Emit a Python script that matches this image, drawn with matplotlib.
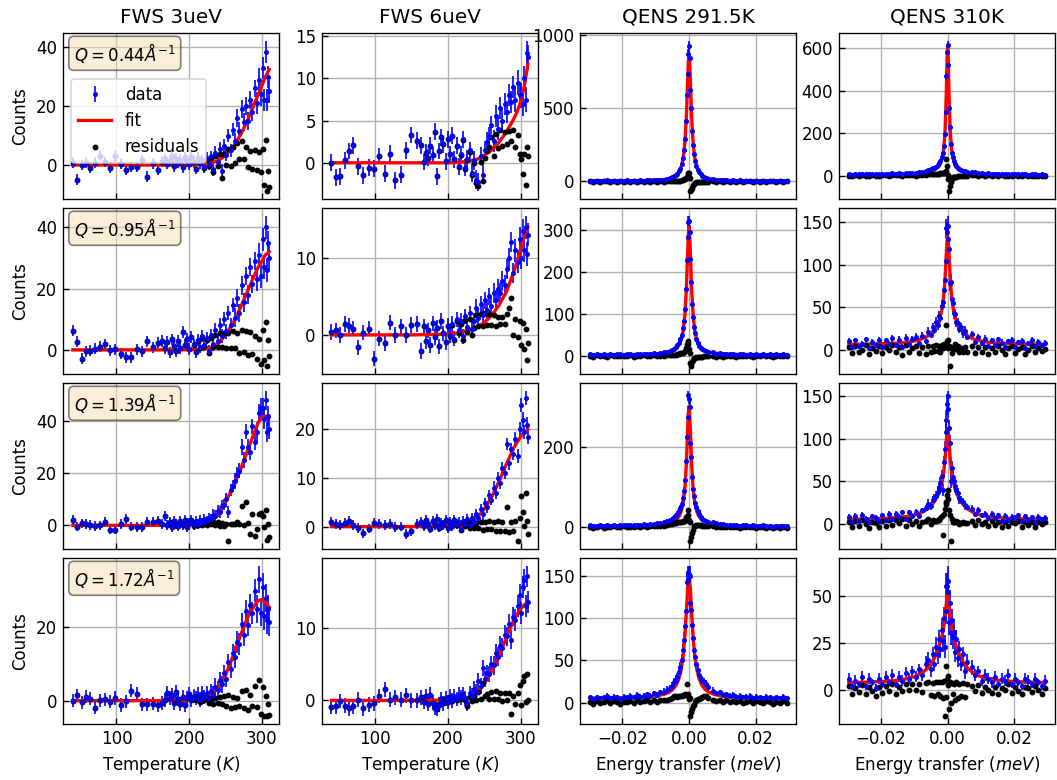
import matplotlib.pyplot as plt
from matplotlib.ticker import MaxNLocator

# ---------------- FWS: fixed window scans vs temperature ----------------
temp = [40, 46, 52, 58, 64, 70, 77, 84, 91, 98, 106, 113, 120, 128, 135, 142, 150, 157,
        163, 167, 170, 173, 176, 179, 182, 185, 188, 191, 194, 197, 200, 203, 206, 209,
        212, 215, 218, 221, 224, 227, 230, 233, 236, 239, 242, 245, 248, 251, 254, 257,
        260, 263, 266, 269, 272, 275, 278, 281, 284, 287, 290, 293, 296, 299, 301, 303,
        305, 307, 309, 310]
temp_fit = [40, 150, 200, 210, 220, 230, 240, 250, 260, 270, 280, 290, 295, 300, 305, 310]

err_3uev = [1.8, 1.8, 1.8, 1.8, 1.8, 1.8, 1.8, 1.8, 1.8, 1.8, 1.8, 1.8, 1.8, 1.8, 1.8, 1.8, 1.8, 1.8,
            1.9, 1.9, 1.9, 1.9, 1.9, 1.9, 1.9, 1.9, 1.9, 1.9, 1.9, 1.9, 1.9, 1.9, 1.9, 1.9,
            1.9, 1.9, 1.9, 1.9, 1.9, 1.9, 1.9, 2.3, 2.3, 2.3, 2.3, 2.3, 2.3, 2.3, 2.3, 2.3,
            2.3, 3.0, 3.0, 3.0, 3.0, 3.0, 3.0, 3.0, 3.0, 3.0, 3.0, 3.8, 3.8, 3.8, 3.8, 3.8,
            3.8, 3.8, 3.8, 3.8]
err_6uev = [1.0, 1.0, 1.0, 1.0, 1.0, 1.0, 1.0, 1.0, 1.0, 1.0, 1.0, 1.0, 1.0, 1.0, 1.0, 1.0, 1.0, 1.0,
            1.0, 1.0, 1.0, 1.0, 1.0, 1.0, 1.0, 1.0, 1.0, 1.0, 1.0, 1.0, 1.0, 1.0, 1.0, 1.0,
            1.0, 1.0, 1.0, 1.0, 1.0, 1.0, 1.0, 1.1, 1.1, 1.1, 1.1, 1.1, 1.1, 1.1, 1.1, 1.1,
            1.1, 1.3, 1.3, 1.3, 1.3, 1.3, 1.3, 1.3, 1.3, 1.3, 1.3, 1.5, 1.5, 1.5, 1.5, 1.5,
            1.5, 1.5, 1.5, 1.5]

# FWS 3ueV
fws3_044 = [0.8, -5.0, 0.0, 0.8, -0.9, 0.8, 3.1, 1.0, -0.9, 2.9, 0.5, -1.7, -0.7, -0.7, 1.7, -4.0, 0.6, -1.7,
            1.1, 2.0, 0.5, 1.5, 3.0, -0.5, 2.2, 0.8, 1.8, -0.8, 2.6, 1.2, 0.2, 2.8, 1.0, -1.2,
            2.4, 0.6, 1.6, -0.8, 2.4, 0.3, 3.0, -1.5, 4.2, 1.0, 5.5, -2.0, 6.5, 3.5, 10.0, 5.0,
            12.0, 8.0, 16.0, 11.5, 19.0, 14.5, 20.0, 15.0, 22.0, 18.0, 26.0, 21.0, 29.0, 24.0, 33.0, 22.0,
            38.5, 22.0, 30.0, 25.0]
fws3_044_res = [0.8, -5.0, 0.0, 0.8, -0.9, 0.8, 3.1, 1.0, -0.9, 2.9, 0.5, -1.7, -0.7, -0.7, 1.7, -4.0, 0.6, -1.7,
                1.1, 2.0, 0.5, 1.5, 3.0, -0.5, 2.2, 0.8, 1.8, -0.8, 2.6, 1.2, 0.2, 2.8, 1.0, -1.2,
                2.4, 0.6, 1.5, -1.0, 2.0, -0.2, 2.4, -2.4, 3.1, -0.4, 3.6, -4.4, 3.6, -0.1, 5.6, -0.2,
                6.0, 0.8, 7.6, 1.9, 8.0, 2.0, 6.0, -0.6, 4.6, -1.2, 5.0, -1.8, 4.4, -2.4, 5.4, -6.8,
                8.5, -9.0, -2.0, -7.5]
fws3_044_fit = [0, 0, 0, 0.05, 0.2, 0.6, 1.5, 3.3, 6.0, 10.0, 15.0, 21.0, 24.0, 27.0, 30.0, 32.5]

fws3_095 = [6.3, 2.6, -2.9, -0.4, -0.2, 0.3, 1.0, 1.8, -0.1, 0.2, -1.2, -2.4, -2.4, 0.2, -0.4, 2.8, 0.8, 2.3,
            3.0, 0.5, 2.6, -0.8, 3.4, 1.2, -0.5, 2.8, 0.6, 5.8, 1.5, 3.6, 0.3, 4.2, 1.8, -0.6,
            3.2, 0.8, 4.5, 1.5, 3.8, -0.2, 4.8, 2.0, 6.5, 3.0, 8.0, 4.5, 10.0, 6.0, 12.0, 8.0,
            14.5, 10.5, 17.0, 12.0, 21.0, 15.5, 24.0, 18.0, 27.0, 21.5, 29.0, 23.0, 31.0, 24.0, 36.0, 27.0,
            40.0, 26.0, 35.0, 30.0]
fws3_095_res = [6.3, 2.6, -2.9, -0.4, -0.2, 0.3, 1.0, 1.8, -0.1, 0.2, -1.2, -2.4, -2.4, 0.2, -0.4, 2.8, 0.8, 2.3,
                3.0, 0.5, 2.6, -0.8, 3.4, 1.2, -0.5, 2.8, 0.6, 5.8, 1.5, 3.6, 0.3, 4.1, 1.7, -0.7,
                3.0, 0.6, 4.2, 1.2, 3.3, -0.9, 4.0, 0.8, 5.0, 1.1, 5.4, 1.0, 5.6, 0.65, 5.6, 0.55,
                6.0, 0.5, 5.5, -1.0, 6.4, -0.75, 6.1, -1.55, 5.8, -1.35, 4.5, -3.0, 3.6, -4.6, 6.6, -3.2,
                9.0, -5.4, 3.2, -2.0]
fws3_095_fit = [0, 0, 0.05, 0.1, 0.3, 0.8, 2.0, 5.0, 8.5, 13.5, 19.0, 24.5, 27.0, 29.0, 31.0, 32.0]

fws3_139 = [2.0, -0.5, 0.7, 0.5, 0.1, -0.2, 0.0, 1.4, -1.7, -1.7, 0.5, 2.4, -0.5, -0.7, -0.7, 1.4, 1.4, 1.6,
            0.4, 3.6, 0.2, 1.2, -0.8, 1.8, 0.5, -0.4, 1.5, 0.2, 2.0, -0.6, 1.0, 2.2, 0.0, 1.6,
            0.6, 2.0, 1.0, 2.5, 1.5, 3.0, 2.5, 4.0, 3.5, 5.5, 5.0, 7.5, 8.0, 10.0, 5.0, 13.5,
            15.0, 17.0, 19.5, 21.0, 30.0, 25.0, 36.0, 30.0, 28.0, 38.0, 32.0, 36.0, 43.0, 45.0, 45.0, 41.0,
            48.0, 36.0, 42.0, 37.0]
fws3_139_res = [2.0, -0.5, 0.7, 0.5, 0.1, -0.2, 0.0, 1.4, -1.7, -1.7, 0.5, 2.4, -0.5, -0.7, -0.7, 1.4, 1.4, 1.6,
                0.4, 3.6, 0.2, 1.2, -0.8, 1.8, 0.5, -0.4, 1.5, 0.2, 2.0, -0.6, 0.9, 2.0, -0.2, 1.3,
                0.2, 1.45, 0.3, 1.6, 0.2, 1.4, 0.5, 1.25, 0.0, 1.25, -0.4, 0.75, -0.1, 0.45, -6.2, 0.65,
                0.5, 0.55, 1.1, 0.65, 7.5, 0.25, 9.0, 0.75, -3.5, 4.25, -4.0, -1.4, 4.2, 4.7, 3.4, -0.8,
                6.0, -5.8, 0.4, -4.5]
fws3_139_fit = [0, 0, 0.1, 0.3, 0.8, 2.0, 4.5, 9.0, 14.5, 21.0, 28.5, 36.0, 39.5, 41.5, 42.0, 41.5]

fws3_172 = [0.0, 1.5, -0.4, 1.1, 0.5, -1.9, 0.1, 0.4, -0.3, 0.7, -1.2, -0.2, 2.7, 1.8, -1.0, -1.0, -0.8, -1.3,
            -0.6, 0.1, 2.2, 0.8, 1.6, -0.6, 2.4, 0.4, -0.8, 1.0, -1.2, 0.6, 1.8, 0.2, 1.2, 0.6,
            1.8, 0.2, 2.2, 1.0, 2.0, 0.8, 2.6, 1.6, 3.8, 3.0, 5.5, 4.5, 7.5, 6.0, 10.5, 8.5,
            13.0, 12.0, 16.0, 15.5, 21.0, 18.0, 24.5, 20.5, 26.0, 24.0, 30.0, 25.0, 33.0, 24.0, 31.0, 23.0,
            28.0, 22.0, 25.0, 21.5]
fws3_172_res = [0.0, 1.5, -0.4, 1.1, 0.5, -1.9, 0.1, 0.4, -0.3, 0.7, -1.2, -0.2, 2.7, 1.8, -1.0, -1.0, -0.8, -1.3,
                -0.6, 0.1, 2.2, 0.8, 1.6, -0.6, 2.4, 0.4, -0.8, 1.0, -1.2, 0.6, 1.7, 0.05, 1.0, 0.3,
                1.4, -0.35, 1.5, 0.1, 0.8, -0.7, 0.8, -0.8, 0.8, -0.6, 1.1, -0.9, 1.15, -1.5, 1.5, -2.0,
                1.0, -1.65, 0.7, -1.45, 2.5, -2.0, 3.0, -2.55, 1.55, -1.5, 4.0, -1.8, 5.7, -3.5, 3.6, -4.1,
                1.2, -4.3, -0.8, -4.0]
fws3_172_fit = [0, 0, 0.1, 0.3, 0.8, 1.8, 3.8, 7.0, 12.0, 17.5, 22.5, 26.0, 27.3, 27.5, 26.8, 25.5]

# FWS 6ueV
fws6_044 = [0.0, -1.7, -1.6, 0.3, 1.4, 2.1, -0.4, -1.5, -0.6, -0.7, 0.8, -1.3, 1.1, -2.1, -1.4, 1.5, 3.3, 2.6,
            2.1, 0.1, 1.2, 0.6, 2.0, 0.9, 3.7, -1.6, 1.4, 3.0, 2.2, 0.2, 2.8, 1.0, 3.2, 0.4,
            2.0, -0.4, 1.0, 2.8, -0.6, 0.5, 1.5, -1.2, 0.3, -2.0, -2.3, 0.8, -1.4, 1.5, 2.5, 3.2,
            4.5, 2.6, 5.5, 4.0, 6.5, 5.0, 7.0, 6.0, 8.0, 7.2, 9.0, 7.5, 9.5, 8.0, 8.0, 7.0,
            10.0, 7.5, 13.0, 12.5]
fws6_044_res = [0.0, -1.7, -1.6, 0.3, 1.4, 2.1, -0.4, -1.5, -0.6, -0.7, 0.8, -1.3, 1.1, -2.1, -1.4, 1.5, 3.3, 2.6,
                2.1, 0.1, 1.2, 0.6, 2.0, 0.9, 3.7, -1.6, 1.4, 3.0, 2.2, 0.2, 2.8, 1.0, 3.2, 0.4,
                2.0, -0.5, 0.9, 2.7, -0.75, 0.35, 1.3, -1.5, 0.0, -2.4, -2.8, 0.15, -2.2, 0.55, 1.35, 1.9,
                3.0, 0.85, 3.45, 1.7, 3.85, 2.0, 3.65, 2.25, 3.8, 2.55, 3.9, 1.9, 3.3, 1.05, 0.45, -1.3,
                1.0, -2.6, 1.85, 0.8]
fws6_044_fit = [0, 0, 0, 0.02, 0.1, 0.2, 0.4, 0.9, 1.5, 2.4, 3.6, 5.1, 6.0, 7.2, 9.0, 11.7]

fws6_095 = [0.4, 0.6, 0.0, 1.4, 1.2, 0.8, -1.6, 0.3, 0.8, -3.1, -0.5, -1.1, 1.6, 0.0, 1.1, 0.0, 1.3, 1.4,
            -2.1, 1.1, -0.8, 0.6, -1.3, 1.5, -0.3, 0.9, -1.5, 1.8, 0.2, -0.9, 1.2, 0.0, 1.4, -0.5,
            2.0, 0.6, 1.8, -0.2, 2.4, 1.0, 2.8, 0.8, 1.8, 3.5, 2.2, 4.0, 2.6, 4.5, 3.2, 5.0,
            3.8, 5.5, 4.5, 6.0, 5.5, 7.0, 6.5, 8.5, 10.0, 12.0, 8.0, 11.0, 9.5, 12.5, 10.0, 13.5,
            11.0, 14.0, 10.5, 13.0]
fws6_095_res = [0.4, 0.6, 0.0, 1.4, 1.2, 0.8, -1.6, 0.3, 0.8, -3.1, -0.5, -1.1, 1.6, 0.0, 1.1, 0.0, 1.3, 1.4,
                -2.1, 1.1, -0.8, 0.6, -1.3, 1.5, -0.3, 0.9, -1.5, 1.8, 0.2, -0.9, 1.1, -0.1, 1.25, -0.7,
                1.75, 0.3, 1.45, -0.65, 1.9, 0.4, 2.1, 0.0, 0.9, 2.55, 1.1, 2.7, 1.1, 2.8, 1.25, 2.75,
                1.3, 2.6, 1.2, 2.3, 1.35, 2.35, 1.35, 2.75, 3.5, 4.75, 0.0, 2.1, -0.3, 1.8, -1.3, 1.5,
                -1.8, 0.7, -3.3, -1.0]
fws6_095_fit = [0, 0, 0.1, 0.2, 0.4, 0.7, 1.0, 1.6, 2.5, 3.8, 5.5, 8.0, 9.5, 11.0, 12.8, 14.0]

fws6_139 = [0.9, 0.5, 0.3, 0.7, 1.1, 0.3, -0.3, -1.4, -0.4, 0.7, 0.5, 0.4, 0.6, -0.1, 0.0, -1.5, -0.9, 0.6,
            0.9, 0.2, 1.4, 0.5, -0.4, 1.1, 0.3, 1.5, -0.2, 0.8, 0.4, 1.3, -0.3, 0.9, 0.2, 1.4,
            0.5, 1.0, -0.4, 1.2, 0.6, 1.6, 0.4, 1.8, 1.0, 2.5, 1.8, 3.6, 2.5, 4.8, 4.0, 6.5,
            5.5, 8.0, 7.0, 10.0, 9.0, 12.0, 11.0, 17.0, 13.0, 16.0, 15.0, 18.0, 14.5, 20.0, 25.0, 22.0,
            19.5, 26.5, 21.0, 18.5]
fws6_139_res = [0.9, 0.5, 0.3, 0.7, 1.1, 0.3, -0.3, -1.4, -0.4, 0.7, 0.5, 0.4, 0.6, -0.1, 0.0, -1.5, -0.9, 0.6,
                0.9, 0.2, 1.4, 0.5, -0.4, 1.1, 0.3, 1.5, -0.2, 0.8, 0.4, 1.3, -0.3, 0.85, 0.1, 1.3,
                0.35, 0.8, -0.65, 0.85, 0.2, 1.1, -0.2, 0.85, -0.3, 0.8, -0.35, 0.9, -0.75, 0.95, -0.55, 1.2,
                -0.5, 1.05, -0.9, 1.1, -0.9, 1.05, -1.0, 3.95, -1.1, 0.85, -1.0, 1.2, -3.05, 1.75, 6.35, 3.05,
                0.2, 6.9, 1.1, -1.5]
fws6_139_fit = [0, 0, 0.05, 0.1, 0.3, 0.6, 1.8, 3.6, 6.0, 9.2, 12.7, 16.0, 17.3, 18.5, 19.3, 20.0]

fws6_172 = [-0.9, -0.8, -0.1, -0.7, -1.1, -0.8, 0.1, -1.1, -0.6, -0.4, 0.6, 1.5, 0.1, 0.4, 0.1, 0.7, 0.0, 0.0,
            0.4, -0.2, 0.6, -0.5, 0.8, -0.3, -1.0, -1.2, -0.6, 0.2, -0.4, 0.3, -0.2, 0.5, 0.0, 0.6,
            0.2, 0.8, 0.4, 0.9, 0.3, -0.4, 1.0, 0.6, 1.5, 1.2, 2.6, 2.0, 4.5, 3.0, 3.8, 3.6,
            5.0, 4.8, 6.5, 6.0, 7.5, 7.2, 9.0, 8.8, 10.5, 8.3, 11.5, 11.0, 13.0, 14.5, 12.0, 15.5,
            16.5, 13.0, 17.0, 13.5]
fws6_172_res = [-0.9, -0.8, -0.1, -0.7, -1.1, -0.8, 0.1, -1.1, -0.6, -0.4, 0.6, 1.5, 0.1, 0.4, 0.1, 0.7, 0.0, 0.0,
                0.4, -0.2, 0.6, -0.5, 0.8, -0.3, -1.0, -1.2, -0.6, 0.2, -0.4, 0.3, -0.25, 0.45, -0.1, 0.5,
                0.05, 0.65, 0.2, 0.65, 0.0, -0.8, 0.5, -0.1, 0.6, 0.05, 1.2, 0.25, 2.4, 0.55, 0.85, 0.2,
                1.1, 0.25, 1.35, 0.2, 1.0, -0.05, 1.0, 0.05, 1.05, -1.9, 0.6, -0.45, 1.05, 2.15, -0.6, 2.65,
                3.4, -0.25, 3.6, 0.0]
fws6_172_fit = [0, 0, 0.05, 0.1, 0.2, 0.5, 1.2, 2.3, 3.9, 6.0, 8.5, 10.9, 11.8, 12.5, 13.1, 13.5]

# ---------------- QENS spectra vs energy transfer ----------------
energy = [-0.0296, -0.0286, -0.0276, -0.0266, -0.0256, -0.0246, -0.0236, -0.0226, -0.0216, -0.0206,
          -0.0196, -0.0186, -0.0176, -0.0166, -0.0156, -0.0146, -0.0136, -0.0126, -0.0116, -0.0106,
          -0.0096, -0.0086, -0.0076, -0.0066,
          -0.0058, -0.0051, -0.0045, -0.0040, -0.0035, -0.0030, -0.0026, -0.0022, -0.0018, -0.0015,
          -0.0012, -0.0009, -0.0006, -0.0004, -0.0002, 0.0,
          0.0002, 0.0004, 0.0006, 0.0009, 0.0012, 0.0015, 0.0018, 0.0022, 0.0026, 0.0030,
          0.0035, 0.0040, 0.0045, 0.0051, 0.0058,
          0.0072, 0.0082, 0.0092, 0.0102, 0.0112, 0.0122, 0.0132, 0.0142, 0.0152, 0.0162,
          0.0172, 0.0182, 0.0192, 0.0202, 0.0212, 0.0222, 0.0232, 0.0242, 0.0252, 0.0262,
          0.0272, 0.0282, 0.0292]
energy_fit = [-0.0296, -0.024, -0.019, -0.015, -0.012, -0.0095, -0.0075, -0.006, -0.0048, -0.0038,
              -0.003, -0.0023, -0.0017, -0.0012, -0.0008, -0.0004, -0.0002, 0.0,
              0.0002, 0.0004, 0.0008, 0.0012, 0.0017, 0.0023, 0.003, 0.0038, 0.0048, 0.006,
              0.0075, 0.0095, 0.012, 0.015, 0.019, 0.024, 0.0292]

# QENS 291.5K
qens291_044 = [5, 3, 6, 2, 4, 7, 3, 5, 4, 6, 3, 7, 4, 6, 5, 8, 5, 9, 7, 10, 8, 13, 12, 18,
               24, 30, 36, 44, 52, 70, 88, 118, 158, 215, 290, 410, 590, 730, 870, 920,
               840, 625, 500, 345, 250, 185, 140, 104, 78, 62, 48, 37, 30, 25, 20,
               16, 11, 12, 8, 9, 6, 8, 5, 7, 4, 6, 5, 3, 6, 4, 5, 3, 5, 4, 2, 5, 3, 4]
qens291_044_err = [2, 2, 2, 2, 2, 2, 2, 2, 2, 2, 2, 3, 2, 3, 2, 3, 2, 3, 3, 3, 3, 4, 4, 4,
                   5, 5, 6, 7, 7, 8, 9, 11, 13, 15, 17, 20, 24, 27, 30, 40,
                   29, 25, 22, 19, 16, 14, 12, 10, 9, 8, 7, 6, 6, 5, 5,
                   4, 3, 3, 3, 3, 2, 3, 2, 3, 2, 2, 2, 2, 2, 2, 2, 2, 2, 2, 2, 2, 2, 2]
qens291_044_res = [1.3, -0.75, 2.2, -1.9, 0, 3, -1.15, 0.75, -0.4, 1.5, -1.7, 2.15, -1, 0.7, -0.6, 2, -1.4, 2.1,
                   -0.6, 1.5, -1.8, 1.6, -1.6, 1,
                   3, 4, 4, 5, 2.5, 5.6, 6, 9, 8, 16, 16, 23, 33, 37, 57, 57,
                   27, -68, -57, -42, -24, -14, -10, -5, -4, -2.4, -1.5, -2, -2, -1, -1,
                   1.2, -1.2, 1.6, -1, 1, -1.2, 1.4, -1.1, 1.3, -1.4, 0.9, 0.1, -1.8, 1.4, -0.5, 0.7, -1.2,
                   0.9, 0, -1.9, 1.2, -0.8, 0.3]
qens291_044_fit = [3.7, 4.1, 4.7, 5.8, 7.4, 9.9, 13.9, 19.9, 28.8, 42.9, 64.4, 101, 164, 274, 437, 693, 813,
                   863,
                   813, 693, 437, 274, 164, 101, 64.4, 42.9, 28.8, 19.9, 13.9, 9.9, 7.4, 5.8, 4.7, 4.1, 3.7]

qens291_095 = [4, 2, 5, 3, 4, 2, 5, 3, 4, 5, 3, 4, 6, 3, 5, 4, 6, 4, 5, 7, 6, 8, 9, 11,
               12, 14, 18, 21, 26, 32, 40, 50, 66, 84, 112, 160, 228, 282, 318, 322,
               295, 230, 175, 125, 92, 70, 54, 40, 31, 25, 20, 16, 14, 12, 10,
               9, 6, 7, 4, 6, 4, 5, 3, 5, 4, 3, 5, 2, 4, 3, 5, 3, 4, 2, 4, 3, 4, 3]
qens291_095_err = [2, 2, 2, 2, 2, 2, 2, 2, 2, 2, 2, 2, 2, 2, 2, 2, 2, 2, 2, 2, 2, 2, 2, 2,
                   3.5, 4, 4, 5, 5, 6, 6, 7, 8, 9, 11, 13, 15, 17, 15, 12,
                   17, 15, 13, 11, 10, 8, 7, 6, 6, 5, 4, 4, 4, 3, 3,
                   2, 2, 2, 2, 2, 2, 2, 2, 2, 2, 2, 2, 2, 2, 2, 2, 2, 2, 2, 2, 2, 2, 2]
qens291_095_res = [0.7, -1.3, 1.65, -0.35, 0.6, -1.4, 1.55, -0.5, 0.45, 1.4, -0.7, 0.25, 2.15, -0.95, 0.95, -0.2,
                   1.6, -0.6, 0.1, 1.7, 0.1, 1.4, 1.3, 1.6,
                   1.8, 1.8, 3.4, 3.7, 4.9, 5.4, 6.9, 7.3, 8.4, 9.4, 11.2, 20, 28.5, 35, 29.4, 16,
                   6.4, -17, -24.5, -15, -8.8, -4.6, -3.6, -2.7, -2.1, -1.6, -1.1, -1.3, -0.6, -0.2, -0.2,
                   1, -0.9, 0.9, -1.5, 0.95, -0.7, 0.55, -1.25, 0.95, 0.1, -0.8, 1.3, -1.6, 0.45, -0.5, 1.55,
                   -0.4, 0.6, -1.35, 0.65, -0.3, 0.7, -0.3]
qens291_095_fit = [3.3, 3.4, 3.7, 4.1, 4.8, 5.8, 7.4, 9.8, 13.2, 18.6, 26.6, 39.9, 62.2, 100.8, 158, 247, 288.6,
                   306,
                   288.6, 247, 158, 100.8, 62.2, 39.9, 26.6, 18.6, 13.2, 9.8, 7.4, 5.8, 4.8, 4.1, 3.7, 3.4, 3.3]

qens291_139 = [5, 3, 4, 6, 3, 5, 4, 6, 4, 5, 7, 5, 6, 5, 7, 6, 8, 6, 8, 9, 10, 11, 13, 16,
               18, 22, 26, 30, 34, 40, 48, 58, 74, 92, 118, 165, 225, 275, 330, 322,
               300, 210, 175, 125, 95, 78, 62, 50, 40, 33, 27, 22, 19, 16, 14,
               13, 10, 9, 8, 6, 7, 5, 6, 4, 5, 6, 4, 5, 3, 4, 5, 3, 4, 2, 4, 3, 4, 3]
qens291_139_err = [2, 2, 2, 2, 2, 2, 2, 2, 2, 2, 3, 2, 2, 2, 3, 2, 3, 2, 3, 3, 3, 3, 4, 4,
                   4, 5, 5, 5, 6, 6, 7, 8, 9, 10, 11, 13, 15, 17, 12, 14,
                   17, 15, 13, 11, 10, 9, 8, 7, 6, 6, 5, 5, 4, 4, 4,
                   4, 3, 3, 3, 2, 3, 2, 2, 2, 2, 2, 2, 2, 2, 2, 2, 2, 2, 2, 2, 2, 2, 2]
qens291_139_res = [1.7, -0.3, 0.65, 2.6, -0.45, 1.5, 0.45, 2.4, 0.3, 1.2, 3.1, 1, 1.9, 0.75, 2.6, 1.4, 3.15, 0.9,
                   2.5, 3, 3.3, 3.4, 4.1, 5,
                   7.5, 9.4, 11, 12.2, 12.4, 12.7, 14.2, 14.6, 15.7, 17, 17, 25, 27, 30, 44, 19,
                   14, -35, -23, -15, -6, 3, 3.7, 6.6, 6.2, 5.7, 5.4, 4.2, 4, 3.4, 3.5,
                   3.5, 2.1, 2.1, 1.9, 0.5, 1.9, 0.25, 1.5, -0.25, 0.9, 2.05, 0.2, 1.3, -0.6, 0.45, 1.5,
                   -0.45, 0.6, -1.35, 0.65, -0.3, 0.7, -0.3]
qens291_139_fit = [3.3, 3.5, 3.8, 4.2, 4.9, 5.9, 7.6, 10.1, 13.6, 19.1, 27.3, 40.6, 62.8, 100.9, 157, 245, 286,
                   303,
                   286, 245, 157, 100.9, 62.8, 40.6, 27.3, 19.1, 13.6, 10.1, 7.6, 5.9, 4.9, 4.2, 3.8, 3.5, 3.3]

qens291_172 = [6, 4, 7, 5, 6, 8, 5, 7, 6, 4, 7, 6, 8, 6, 9, 7, 8, 10, 8, 11, 9, 12, 13, 15,
               17, 20, 24, 27, 30, 36, 42, 50, 62, 74, 90, 108, 143, 145, 152, 152,
               150, 118, 110, 92, 76, 62, 54, 45, 38, 33, 28, 26, 24, 22, 18,
               14, 11, 12, 9, 10, 8, 9, 7, 8, 6, 7, 8, 5, 7, 6, 5, 7, 6, 4, 6, 5, 7, 5]
qens291_172_err = [2, 2, 2, 2, 2, 3, 2, 3, 2, 2, 3, 2, 3, 2, 3, 3, 3, 3, 3, 3, 3, 3, 4, 4,
                   4, 4, 5, 5, 5, 6, 6, 7, 8, 9, 9, 10, 12, 12, 10, 10,
                   12, 11, 10, 10, 9, 8, 7, 7, 6, 6, 5, 5, 5, 5, 4,
                   4, 3, 3, 3, 3, 3, 3, 3, 3, 2, 3, 3, 2, 3, 2, 2, 3, 2, 2, 2, 2, 3, 2]
qens291_172_res = [0.7, -1.35, 1.6, -0.45, 0.5, 2.45, -0.6, 1.35, 0.3, -1.8, 1.15, 0.05, 1.95, -0.2, 2.65, 0.5,
                   1.25, 3, 0.65, 3.2, 0.65, 2.9, 2.9, 3.5,
                   4.4, 5.4, 7.1, 7.4, 6.8, 7.6, 7.9, 8, 8.6, 9.1, 10, 8.8, 22, 10.5, 7.6, 4,
                   5.6, -16.5, -11, -7.2, -4, -2.9, 0.6, 3, 3.9, 4.6, 4.8, 6.4, 7.1, 7.4, 5.4,
                   3.2, 1.4, 3.3, 1, 2.5, 0.9, 2.2, 0.45, 1.65, -0.2, 0.95, 2.05, -0.85, 1.25, 0.3, -0.6,
                   1.45, 0.5, -1.45, 0.6, -0.35, 1.65, -0.3]
qens291_172_fit = [5.3, 5.5, 5.8, 6.2, 6.9, 8.0, 9.7, 12.1, 15.6, 20.9, 28.4, 39.8, 56.9, 80.1, 106.3, 134.5, 144.4,
                   148,
                   144.4, 134.5, 106.3, 80.1, 56.9, 39.8, 28.4, 20.9, 15.6, 12.1, 9.7, 8.0, 6.9, 6.2, 5.8, 5.5, 5.3]

# QENS 310K
qens310_044 = [9, 7, 10, 8, 11, 9, 8, 12, 10, 9, 12, 11, 10, 13, 12, 14, 12, 15, 14, 16, 15, 18, 20, 24,
               28, 32, 36, 40, 44, 52, 60, 72, 90, 110, 140, 195, 300, 470, 580, 615,
               520, 318, 230, 150, 110, 88, 70, 56, 46, 40, 33, 28, 25, 22, 20,
               20, 17, 14, 15, 12, 13, 11, 12, 10, 11, 9, 10, 8, 10, 9, 8, 10, 7, 9, 8, 7, 9, 7]
qens310_044_err = [3, 3, 3, 3, 3, 3, 3, 3, 3, 3, 3, 3, 3, 3, 3, 3, 3, 3, 3, 3, 3, 3, 3, 3,
                   5, 6, 6, 6, 7, 7, 8, 9, 10, 11, 12, 14, 17, 21, 24, 20,
                   23, 18, 15, 12, 11, 9, 8, 8, 7, 7, 6, 6, 5, 5, 5,
                   4, 4, 4, 4, 3, 4, 3, 3, 3, 3, 3, 3, 3, 3, 3, 3, 3, 3, 3, 3, 3, 3, 3]
qens310_044_res = [2.4, 0.35, 3.3, 1.2, 4.1, 2, 0.95, 4.85, 2.7, 1.55, 4.4, 3.2, 2, 4.75, 3.45, 5.1, 2.65, 5.1,
                   3.5, 4.7, 2.7, 4.4, 4.8, 6.7,
                   9.4, 10.3, 10.8, 10.9, 9.7, 10.7, 11, 12.3, 14.1, 15.5, 16, 19, 24, 80, 47, 4,
                   -13, -72, -46, -26, -14, -6.5, -5.9, -3.7, -3, -1.3, -1.3, -1.1, -0.2, 0.3, 1.4,
                   4, 3.6, 2, 4.1, 2, 3.6, 2.1, 3.5, 1.8, 3.1, 1.3, 2.5, 0.65, 2.8, 1.9, 1, 3.1, 0.15,
                   2.2, 1.25, 0.3, 2.35, 0.4]
qens310_044_fit = [6.6, 6.9, 7.4, 8.2, 9.3, 11.2, 14.0, 17.9, 23.2, 31.0, 41.3, 56.6, 81.3, 124, 202, 390, 533,
                   611,
                   533, 390, 202, 124, 81.3, 56.6, 41.3, 31.0, 23.2, 17.9, 14.0, 11.2, 9.3, 8.2, 7.4, 6.9, 6.6]

qens310_095 = [11, 4, 12, 5, 8, 13, 3, 10, 6.5, 12.5, 4.5, 12, 8, 14, 6.5, 12.5, 4, 15, 7.5, 13, 16, 9, 17, 11.5,
               22, 18, 27, 24, 33, 30, 40, 38, 52, 56, 70, 82, 104, 142, 138, 145,
               130, 118, 78, 80, 60, 55, 44, 42, 33, 32, 25, 27, 20, 23, 16,
               19, 9.3, 15.2, 8.3, 13.7, 5.2, 11.8, 6.5, 13.2, 9, 3.8, 10.7, 12.55, 4.45, 9.35, 11.25, 3.2, 8.15,
               12.1, 5.05, 10, 6, 9]
qens310_095_err = [3, 3, 3, 3, 3, 3, 3, 3, 3, 3, 3, 3, 3, 4, 3, 4, 3, 4, 3, 4, 4, 3, 4, 4,
                   5, 4, 5, 5, 6, 6, 6, 6, 7, 7, 8, 9, 10, 11, 12, 12,
                   11, 11, 9, 9, 8, 7, 7, 6, 6, 6, 5, 5, 5, 5, 4,
                   4, 3, 4, 3, 4, 3, 3, 3, 3, 4, 3, 3, 3, 3, 3, 3, 3, 3, 3, 3, 3, 3, 3]
qens310_095_res = [4, -3, 5, -2, 1, 6, -4, 3, -1, 5, -3, 4, 0, 6, -2, 4, -5, 6, -2, 3, 5, -3, 4, -4,
                   4.7, -1.5, 5.2, -0.3, 5.8, -0.9, 5.3, -1.5, 6, 3.2, 7.6, 5.6, 7.4, 29.4, 11.4, 12.5,
                   3.4, 5.4, -18.6, 3.6, -2.4, 2.2, 4.5, 7.3, 2.1, 4.8, -2.2, 2.7, -1.8, 3.5, -1.3,
                   5, -3, 4, -2, 4, -4, 3, -2, 5, 1, -4, 3, 5, -3, 2, 4, -4, 1, 5, -2, 3, -1, 2]
qens310_095_fit = [7.1, 7.4, 7.9, 8.6, 9.7, 11.4, 13.8, 16.8, 20.6, 25.4, 30.9, 38.1, 47.8, 62.4, 82.4, 112.6, 126.6,
                   132.5,
                   126.6, 112.6, 82.4, 62.4, 47.8, 38.1, 30.9, 25.4, 20.6, 16.8, 13.8, 11.4, 9.7, 8.6, 7.9, 7.4, 7.1]

qens310_139 = [8.7, 2.7, 9.75, 3.8, 10.9, 5.95, 2.05, 9.1, 7.2, 3.35, 10.5, 4.65, 11.85, 6.05, 12.3, 8.6, 14, 6.4,
               14, 9.7, 14.6, 9.8, 16.2, 19.3,
               24, 21, 28, 30, 33, 38, 42, 48, 56, 40, 72, 88, 108, 122, 140, 150,
               135, 112, 95, 50, 66, 55, 50, 44, 40, 36, 30, 28, 26, 22, 20,
               18, 11.5, 16.3, 10.2, 12.4, 6.7, 12.2, 6.8, 10.45, 4.15, 9.9, 4.7, 8.55, 7.4, 10.25, 3.15, 9.05, 5,
               7.9, 2.85, 8.8, 5.75, 7.7]
qens310_139_err = [3, 3, 3, 3, 3, 3, 3, 3, 3, 3, 3, 3, 3, 3, 3, 3, 3, 3, 3, 3, 3, 3, 3, 3,
                   5, 5, 5, 5, 6, 6, 6, 7, 7, 7, 8, 9, 10, 11, 12, 6,
                   11, 10, 9, 8, 8, 7, 7, 7, 6, 6, 6, 5, 5, 5, 4,
                   4, 3, 4, 3, 3, 3, 3, 3, 3, 3, 3, 3, 3, 3, 3, 3, 3, 3, 3, 3, 3, 3, 3]
qens310_139_res = [3, -3, 4, -2, 5, 0, -4, 3, 1, -3, 4, -2, 5, -1, 5, 1, 6, -2, 5, 0, 4, -2, 3, 4,
                   5.8, 0.3, 4.6, 3.9, 3.7, 4.8, 5.1, 6.6, 9, -12.4, 12.2, 17.8, 23.3, 26, 34, 40,
                   29, 16, 10.3, -20.2, 6.2, 2.6, 3, 2.6, 3.1, 2.8, 0.7, 1.9, 2.6, 1.3, 1.8,
                   4, -1, 5, 0, 3, -2, 4, -1, 3, -3, 3, -2, 2, 1, 4, -3, 3, -1, 2, -3, 3, 0, 2]
qens310_139_fit = [5.7, 6.1, 6.7, 7.7, 9.0, 11.0, 14.0, 17.6, 22.0, 27.4, 33.2, 40.1, 48.5, 59.8, 74.6, 96.0, 105.9,
                   110,
                   105.9, 96.0, 74.6, 59.8, 48.5, 40.1, 33.2, 27.4, 22.0, 17.6, 14.0, 11.0, 9.0, 7.7, 6.7, 6.1, 5.7]

qens310_172 = [6, 2, 5, 3, 7, 2, 6, 4, 1, 6, 3, 7, 4, 8, 3, 7, 5, 9, 6, 10, 7, 11, 8, 14,
               16, 11, 19, 14, 23, 19, 27, 22, 32, 26, 38, 23, 55, 42, 55, 58,
               52, 36, 46, 30, 37, 28, 31, 20, 27, 17, 22, 14, 19, 10, 15,
               12, 8, 10, 5, 8, 6, 4, 7, 3, 6, 5, 8, 3, 6, 4, 2, 6, 5, 3, 6, 4, 2, 5]
qens310_172_err = [3, 2, 3, 2, 3, 2, 3, 2, 2, 3, 2, 3, 2, 3, 2, 3, 3, 3, 3, 3, 3, 3, 3, 4,
                   4, 4, 4, 4, 5, 5, 5, 5, 6, 6, 6, 6, 7, 7, 7, 8,
                   7, 7, 7, 6, 6, 6, 5, 5, 5, 5, 4, 4, 4, 4, 4,
                   4, 3, 3, 3, 3, 3, 3, 3, 2, 3, 3, 3, 2, 3, 2, 2, 3, 3, 2, 3, 2, 2, 3]
qens310_172_res = [2.05, -2, 1, -1.05, 2.9, -2.15, 1.8, -0.25, -3.3, 1.6, -1.5, 2.4, -0.75, 3.1, -2.05, 1.75,
                   -0.5, 3.2, -0.15, 3.4, -0.2, 3, -1, 3.6,
                   4, -2.5, 3.8, -2.9, 4.2, -2, 4, -3.3, 4.1, -4.3, 4.8, -14, 13, -3.9, 5.9, 7.5,
                   2.9, -9.9, 4, -7, 3.8, -2.3, 3.1, -5.3, 4, -4, 3.2, -2.9, 3.8, -3.5, 3,
                   2.4, -0.4, 2.5, -1.8, 1.7, 0.1, -1.55, 1.7, -2.1, 1.1, 0.25, 3.4, -1.5, 1.6, -0.3, -2.25,
                   1.8, 0.85, -1.1, 1.95, 0, -2, 1.05]
qens310_172_fit = [4.0, 4.2, 4.6, 5.2, 6.1, 7.4, 9.3, 11.6, 14.3, 17.6, 21.0, 24.7, 28.7, 33.2, 38.5, 45.9, 49.1,
                   50.5,
                   49.1, 45.9, 38.5, 33.2, 28.7, 24.7, 21.0, 17.6, 14.3, 11.6, 9.3, 7.4, 6.1, 5.2, 4.6, 4.2, 4.0]

titles = ['FWS 3ueV', 'FWS 6ueV', 'QENS 291.5K', 'QENS 310K']
q_values = ['0.44', '0.95', '1.39', '1.72']
xlabels = ['Temperature ($K$)', 'Temperature ($K$)', 'Energy transfer ($meV$)', 'Energy transfer ($meV$)']

# per column: x for data, x for fit, and (data, err, residuals, fit) per row
columns = [
    (temp, temp_fit, [(fws3_044, err_3uev, fws3_044_res, fws3_044_fit),
                      (fws3_095, err_3uev, fws3_095_res, fws3_095_fit),
                      (fws3_139, err_3uev, fws3_139_res, fws3_139_fit),
                      (fws3_172, err_3uev, fws3_172_res, fws3_172_fit)]),
    (temp, temp_fit, [(fws6_044, err_6uev, fws6_044_res, fws6_044_fit),
                      (fws6_095, err_6uev, fws6_095_res, fws6_095_fit),
                      (fws6_139, err_6uev, fws6_139_res, fws6_139_fit),
                      (fws6_172, err_6uev, fws6_172_res, fws6_172_fit)]),
    (energy, energy_fit, [(qens291_044, qens291_044_err, qens291_044_res, qens291_044_fit),
                          (qens291_095, qens291_095_err, qens291_095_res, qens291_095_fit),
                          (qens291_139, qens291_139_err, qens291_139_res, qens291_139_fit),
                          (qens291_172, qens291_172_err, qens291_172_res, qens291_172_fit)]),
    (energy, energy_fit, [(qens310_044, qens310_044_err, qens310_044_res, qens310_044_fit),
                          (qens310_095, qens310_095_err, qens310_095_res, qens310_095_fit),
                          (qens310_139, qens310_139_err, qens310_139_res, qens310_139_fit),
                          (qens310_172, qens310_172_err, qens310_172_res, qens310_172_fit)]),
]

fig, axes = plt.subplots(4, 4, sharex='col', figsize=(1057 / 120, 780 / 120), dpi=120)
fig.subplots_adjust(left=0.0596, right=0.9981, top=0.9577, bottom=0.0718, wspace=0.1975, hspace=0.0542)

for c, (x, x_fit, rows) in enumerate(columns):
    for r, (y, yerr, res, fit) in enumerate(rows):
        ax = axes[r, c]
        eb = ax.errorbar(x, y, yerr=yerr, fmt='.', color='b', ms=4, elinewidth=1)
        fit_line, = ax.plot(x_fit, fit, 'r-', lw=2)
        res_line, = ax.plot(x, res, 'k.', ms=5)
        ax.grid(True)
        ax.tick_params(direction='in')
        ax.yaxis.set_major_locator(MaxNLocator(nbins=4, steps=[1, 2, 2.5, 5, 10]))
        ax.xaxis.set_major_locator(MaxNLocator(nbins=4, steps=[1, 2, 2.5, 5, 10]))
        if r == 0:
            ax.set_title(titles[c])
        if r == 3:
            ax.set_xlabel(xlabels[c])
        if c == 0:
            ax.set_ylabel('Counts')
            ax.text(0.05, 0.95, r'$Q=%sÅ^{-1}$' % q_values[r], transform=ax.transAxes, va='top',
                    bbox=dict(boxstyle='round', facecolor='wheat', alpha=0.5))
            if r == 0:
                ax.legend([eb, fit_line, res_line], ['data', 'fit', 'residuals'],
                          loc='upper left', bbox_to_anchor=(0.0, 0.773))

fig.savefig('out.png', dpi=120)
